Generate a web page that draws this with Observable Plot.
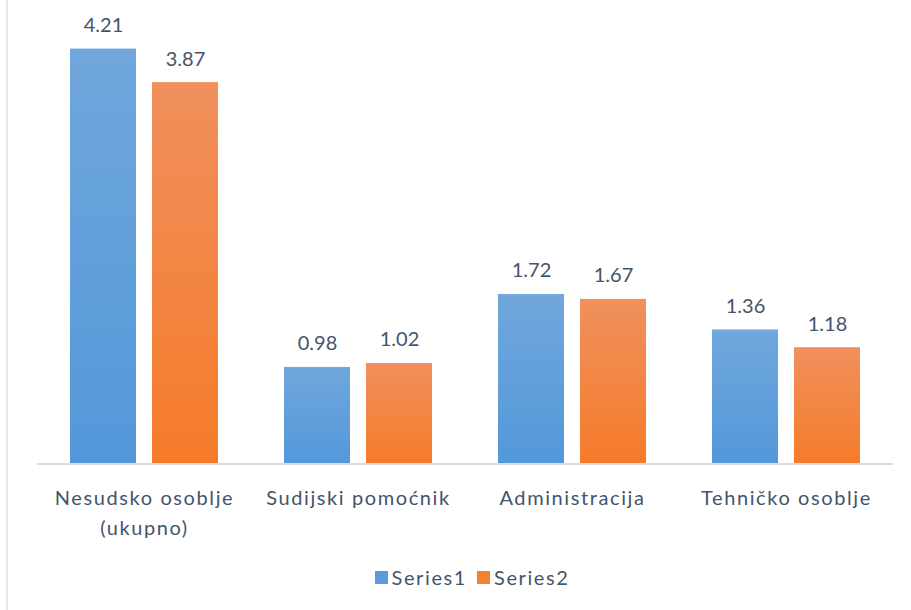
<!DOCTYPE html>
<html>
<head>
<meta charset="utf-8">
<script src="https://cdn.jsdelivr.net/npm/d3@7"></script>
<script src="https://cdn.jsdelivr.net/npm/@observablehq/plot@0.6"></script>
<style>
  html, body { margin: 0; padding: 0; background: #fff; }
  #wrap { position: relative; width: 911px; height: 610px; overflow: hidden; }
  #border { position: absolute; left: 6px; top: 0; width: 2px; height: 610px; background: #e3e7ec; }
  #legend { position: absolute; left: 0; top: 550px; width: 911px; height: 60px; display: flex; justify-content: center; align-items: center; padding-left: 33px; box-sizing: border-box; padding-bottom: 6px;
    font-family: Lato, sans-serif; font-size: 20px; letter-spacing: 1.6px; color: #44546a; }
  .item { display: flex; align-items: center; margin: 0 5px; }
  .sw { width: 13px; height: 13px; margin-right: 4px; }
  g[aria-label="fx-axis tick label"] text { letter-spacing: 1.6px; }
</style>
</head>
<body>
<svg width="0" height="0" style="position:absolute">
  <defs>
    <linearGradient id="grad-s1" x1="0" y1="0" x2="0" y2="1">
      <stop offset="0" stop-color="#70a7dc"/>
      <stop offset="1" stop-color="#5398da"/>
    </linearGradient>
    <linearGradient id="grad-s2" x1="0" y1="0" x2="0" y2="1">
      <stop offset="0" stop-color="#f0905d"/>
      <stop offset="1" stop-color="#f57b2a"/>
    </linearGradient>
  </defs>
</svg>
<div id="wrap">
  <div id="chart"></div>
  <div id="border"></div>
  <div id="legend"></div>
</div>
<script>
const categories = ["Nesudsko osoblje (ukupno)", "Sudijski pomoćnik", "Administracija", "Tehničko osoblje"];
const seriesNames = ["Series1", "Series2"];
const series1 = [4.21, 0.98, 1.72, 1.36];
const series2 = [3.87, 1.02, 1.67, 1.18];

const rows = categories.flatMap((c, i) => [
  {category: c, series: seriesNames[0], value: series1[i]},
  {category: c, series: seriesNames[1], value: series2[i]}
]);
const fills = {Series1: "url(#grad-s1)", Series2: "url(#grad-s2)"};
const swatch = {Series1: "#5a9cdb", Series2: "#f4812f"};

const textColor = "#44546a";

const chart = Plot.plot({
  width: 911,
  height: 550,
  marginLeft: 36,
  marginRight: 17,
  marginTop: 20,
  marginBottom: 86.5,
  style: {fontFamily: "Lato, sans-serif", fontSize: "20px", color: textColor, background: "white"},
  fx: {domain: categories, padding: 0, label: null, axis: null},
  x: {domain: seriesNames, paddingInner: 0.193, paddingOuter: 0.39, axis: null},
  y: {domain: [0, 4.5], axis: null},
  marks: [
    ...seriesNames.map(s => Plot.barY(rows.filter(d => d.series === s), {
      fx: "category", x: "series", y: "value", fill: fills[s]
    })),
    Plot.ruleY([0], {stroke: "#d9dde3", strokeWidth: 2}),
    Plot.text(rows, {
      fx: "category", x: "series", y: "value", text: d => d.value.toFixed(2),
      lineAnchor: "bottom", dy: -17, fill: textColor, fontSize: 20
    }),
    Plot.axisFx({
      anchor: "bottom", tickSize: 0, tickPadding: 20, fontSize: 20, lineHeight: 1.5,
      fill: textColor, label: null,
      tickFormat: d => d.replace(" (", "\n(")
    })
  ]
});
document.getElementById("chart").appendChild(chart);

const legend = document.getElementById("legend");
for (const s of seriesNames) {
  const item = document.createElement("div");
  item.className = "item";
  const sw = document.createElement("div");
  sw.className = "sw";
  sw.style.background = swatch[s];
  const label = document.createElement("span");
  label.textContent = s;
  item.appendChild(sw);
  item.appendChild(label);
  legend.appendChild(item);
}
</script>
</body>
</html>
